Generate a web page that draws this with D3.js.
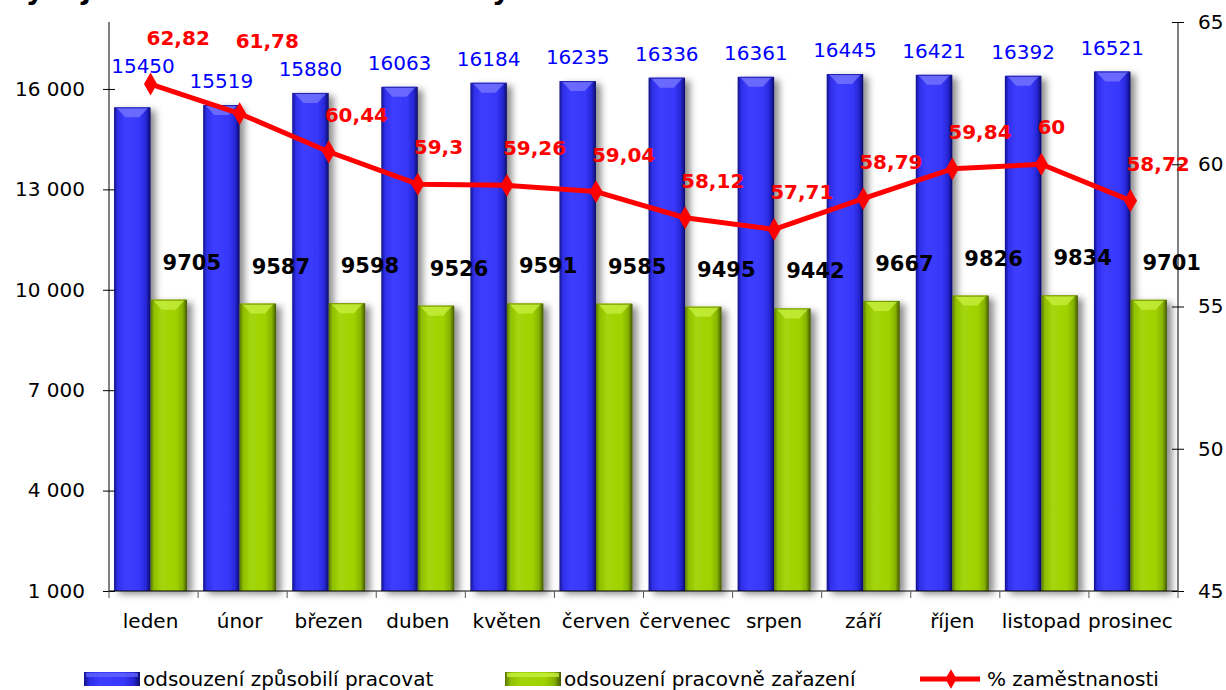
<!DOCTYPE html>
<html><head><meta charset="utf-8">
<script src="https://cdn.jsdelivr.net/npm/d3@7"></script>
<style>
html,body{margin:0;padding:0;background:#fff;}
svg{display:block;font-family:"DejaVu Sans",Verdana,sans-serif;}
</style></head>
<body><svg id="c" width="1226" height="690"></svg>
<script>
const months = ["leden","únor","březen","duben","květen","červen","červenec","srpen","září","říjen","listopad","prosinec"];
const capable = [15450,15519,15880,16063,16184,16235,16336,16361,16445,16421,16392,16521];
const employed = [9705,9587,9598,9526,9591,9585,9495,9442,9667,9826,9834,9701];
const employmentPct = [62.82,61.78,60.44,59.3,59.26,59.04,58.12,57.71,58.79,59.84,60,58.72];
const leftTicks = [1000,4000,7000,10000,13000,16000];
const rightTicks = [45,50,55,60,65];
const seriesNames = ["odsouzení způsobilí pracovat","odsouzení pracovně zařazení","% zaměstnanosti"];
const titleText = "Vývoj zaměstnanosti odsouzených";

const svg = d3.select("#c");
const L = 109, R = 1178, T = 22, B = 591;
const x = d3.scaleBand().domain(months).range([L,R]);
const yL = d3.scaleLinear().domain([1000,18000]).range([B,T]);
const yR = d3.scaleLinear().domain([45,65]).range([B,T]);
const bw = x.bandwidth();
const cx = m => x(m) + bw/2 - 3;
const barW = 36.5;

const defs = svg.append("defs");
function grad(id, stops){
  const g = defs.append("linearGradient").attr("id",id).attr("x1","0").attr("x2","1").attr("y1","0").attr("y2","0");
  stops.forEach(s=>g.append("stop").attr("offset",s[0]).attr("stop-color",s[1]));
}
grad("gBlue",[["0%","#12128a"],["10%","#2f2fe8"],["30%","#3d3dff"],["70%","#3838fa"],["88%","#2727d6"],["100%","#0b0b66"]]);
grad("gGreen",[["0%","#5a7600"],["10%","#8fbf00"],["30%","#a3d60a"],["70%","#9fd200"],["88%","#86b300"],["100%","#425700"]]);
const f = defs.append("filter").attr("id","sh").attr("x","-30%").attr("y","-10%").attr("width","180%").attr("height","130%");
f.append("feDropShadow").attr("dx",5).attr("dy",3).attr("stdDeviation",3.5).attr("flood-color","#000").attr("flood-opacity",0.45);

// title (cut off at top of the picture)
svg.append("text").attr("x",4).attr("y",-1).attr("font-weight","bold").attr("font-size",28).attr("fill","#000").text(titleText);

function drawBar(g, x0, top, fillId, capColor, edgeColor){
  const grp = g.append("g");
  grp.append("rect").attr("x",x0).attr("y",top).attr("width",barW).attr("height",B-top)
    .attr("fill",`url(#${fillId})`).attr("filter","url(#sh)");
  const x1 = x0+barW, mid = x0+barW/2;
  grp.append("polygon").attr("points",[[x0+2,top],[x1-2,top],[mid+7,top+10],[mid-7,top+10]].map(p=>p.join(",")).join(" "))
    .attr("fill",capColor).attr("opacity",0.75);
  grp.append("line").attr("x1",x0+1).attr("x2",x1-1).attr("y1",top+0.5).attr("y2",top+0.5).attr("stroke",edgeColor).attr("stroke-width",1);
}

const bars = svg.append("g");
months.forEach((m,i)=>{
  const c = cx(m);
  drawBar(bars, c-barW, yL(capable[i]), "gBlue", "#7a7aff", "#2020b0");
  drawBar(bars, c, yL(employed[i]), "gGreen", "#c8f040", "#6f9000");
});

// axes
const axL = svg.append("g").attr("transform",`translate(${L},0)`)
  .call(d3.axisLeft(yL).tickValues(leftTicks).tickSize(6).tickPadding(18).tickFormat(d=>d3.format(",")(d).replace(/,/g," ")));
axL.select(".domain").remove();
axL.selectAll(".tick line").attr("x1",6).attr("x2",-6).attr("stroke","#000");
axL.selectAll("text").attr("font-size",20).attr("fill","#000").attr("font-family","DejaVu Sans");
svg.append("line").attr("x1",L).attr("x2",L).attr("y1",T).attr("y2",B).attr("stroke","#000");

const axR = svg.append("g").attr("transform",`translate(${R},0)`)
  .call(d3.axisRight(yR).tickValues(rightTicks).tickSize(6).tickPadding(14));
axR.select(".domain").remove();
axR.selectAll(".tick line").attr("x1",-6).attr("x2",6).attr("stroke","#000");
axR.selectAll("text").attr("font-size",20).attr("fill","#000").attr("font-family","DejaVu Sans");
svg.append("line").attr("x1",R).attr("x2",R).attr("y1",T).attr("y2",B).attr("stroke","#000");

svg.append("line").attr("x1",L).attr("x2",R).attr("y1",B).attr("y2",B).attr("stroke","#000");
const bounds = months.map(m=>x(m)).concat([R]);
svg.append("g").selectAll("line").data(bounds).join("line")
  .attr("x1",d=>d).attr("x2",d=>d).attr("y1",B).attr("y2",B+7).attr("stroke","#555");
svg.append("g").selectAll("text").data(months).join("text")
  .attr("x",m=>cx(m)).attr("y",628).attr("text-anchor","middle").attr("font-size",20).attr("fill","#000").text(m=>m);

// line
const px = (d,i)=>cx(months[i]);
svg.append("path").datum(employmentPct)
  .attr("d",d3.line().x(px).y(d=>yR(d)))
  .attr("fill","none").attr("stroke","#ff0000").attr("stroke-width",5).attr("stroke-linejoin","round");
svg.append("g").selectAll("path").data(employmentPct).join("path")
  .attr("d",d3.symbol(d3.symbolDiamond,150))
  .attr("transform",(d,i)=>`translate(${px(d,i)},${yR(d)})`).attr("fill","#ff0000");

// blue value labels, lifted when the line marker sits inside them
const blueLab = svg.append("g").selectAll("text").data(capable).join("text")
  .attr("x",(d,i)=>Math.max(cx(months[i])-barW/2, L+34))
  .attr("y",(d,i)=>{
    let y = yL(d)-17;
    const py = yR(employmentPct[i]);
    if (py > y-16 && py < y+4) y = py - 11;
    return y;
  })
  .attr("text-anchor","middle").attr("font-size",20).attr("fill","#0000ff").text(d=>d);
const blueBoxes = blueLab.nodes().map(n=>n.getBBox());

svg.append("g").selectAll("text").data(employed).join("text")
  .attr("x",(d,i)=>cx(months[i])+barW/2+23).attr("y",d=>yL(d)-30)
  .attr("text-anchor","middle").attr("font-size",21).attr("font-weight","bold").attr("fill","#000").text(d=>d);

// red labels: above-right of the marker, moved above any blue label they would hit
const redLab = svg.append("g").selectAll("text").data(employmentPct).join("text")
  .attr("x",(d,i)=>px(d,i)-4).attr("y",d=>yR(d)-30)
  .attr("text-anchor","start").attr("font-size",20).attr("font-weight","bold").attr("fill","#ff0000")
  .text(d=>String(d).replace(".",","));
redLab.each(function(){
  const el = d3.select(this);
  for (let k=0;k<4;k++){
    const b = this.getBBox();
    const hit = blueBoxes.find(o=> b.x < o.x+o.width && b.x+b.width > o.x && b.y < o.y+o.height && b.y+b.height > o.y);
    if (!hit) break;
    el.attr("y", +el.attr("y") - ((b.y+b.height) - hit.y) - 4);
  }
  const b = this.getBBox();
  if (b.y < T+4) el.attr("y", +el.attr("y") + (T+4-b.y));
});

// legend
const lg = svg.append("g");
lg.append("rect").attr("x",84).attr("y",672).attr("width",56).attr("height",14).attr("fill","url(#gBlue)");
lg.append("rect").attr("x",86).attr("y",673).attr("width",52).attr("height",4).attr("fill","#6a6aff").attr("opacity",0.7);
lg.append("text").attr("x",143).attr("y",686).attr("font-size",20).attr("fill","#000").text(seriesNames[0]);
lg.append("rect").attr("x",505).attr("y",672).attr("width",56).attr("height",14).attr("fill","url(#gGreen)");
lg.append("rect").attr("x",507).attr("y",673).attr("width",52).attr("height",4).attr("fill","#c8f040").attr("opacity",0.8);
lg.append("text").attr("x",564).attr("y",686).attr("font-size",20).attr("fill","#000").text(seriesNames[1]);
lg.append("line").attr("x1",920).attr("x2",980).attr("y1",679).attr("y2",679).attr("stroke","#ff0000").attr("stroke-width",5);
lg.append("path").attr("d",d3.symbol(d3.symbolDiamond,110)).attr("transform","translate(951,679)").attr("fill","#ff0000");
lg.append("text").attr("x",987).attr("y",686).attr("font-size",20).attr("fill","#000").text(seriesNames[2]);
</script></body></html>
